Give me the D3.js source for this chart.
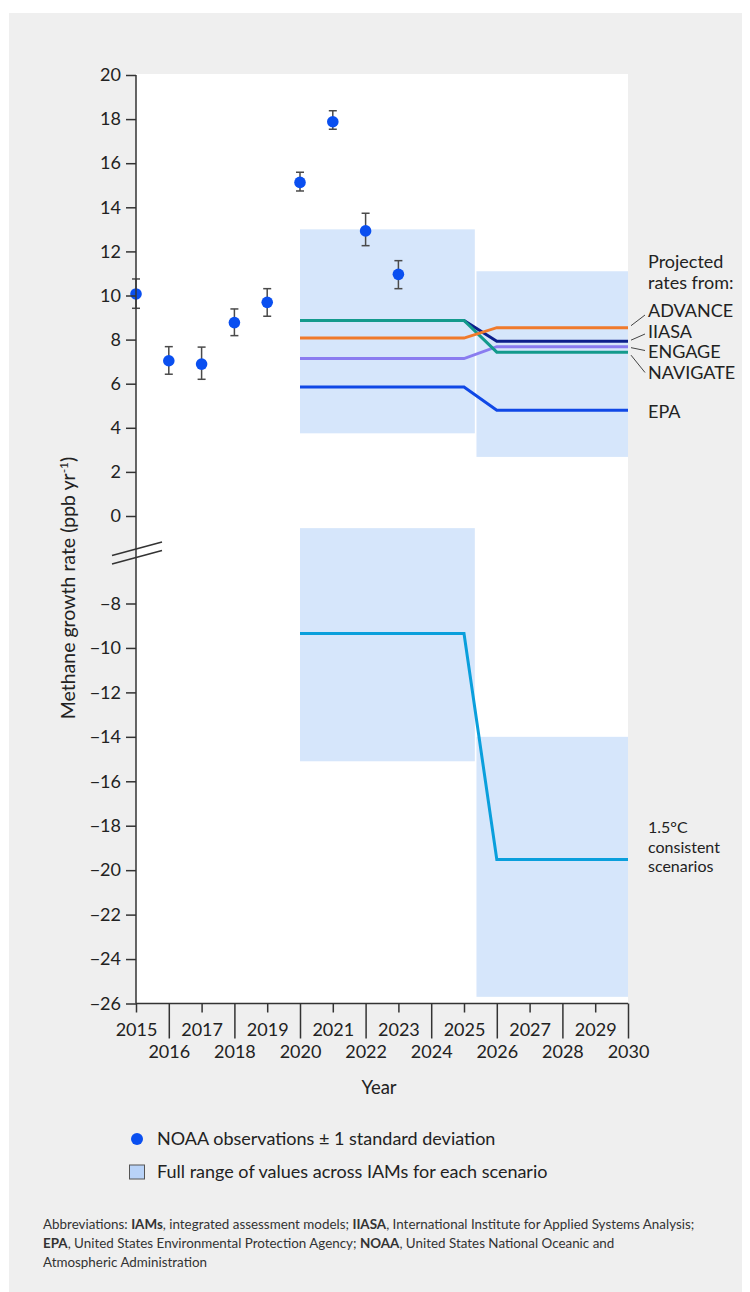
<!DOCTYPE html>
<html>
<head>
<meta charset="utf-8">
<script src="https://cdn.jsdelivr.net/npm/d3@7"></script>
<style>
  body { margin: 0; background: #fff; }
  text { font-family: Lato, "Open Sans", sans-serif; fill: #222; }
</style>
</head>
<body>
<div id="chart"></div>
<script>
// NOAA observations
const obsYears = [2015, 2016, 2017, 2018, 2019, 2020, 2021, 2022, 2023];
const obsValues = [10.07, 7.04, 6.89, 8.77, 9.69, 15.13, 17.88, 12.93, 10.96];
const obsLow = [9.42, 6.43, 6.2, 8.18, 9.06, 14.74, 17.54, 12.26, 10.31];
const obsHigh = [10.75, 7.68, 7.66, 9.39, 10.31, 15.59, 18.38, 13.73, 11.58];

// IAM ranges (boxes)
const boxStart = [2020, 2025.38, 2020, 2025.38];
const boxEnd = [2025.33, 2030, 2025.33, 2030];
const boxLow = [3.75, 2.68, -15.1, -25.7];
const boxHigh = [13.0, 11.1, -0.55, -14.0];

// projected rates
const scenarioYears = [2020, 2025, 2026, 2030];
const advance = [8.07, 8.07, 8.54, 8.54];
const iiasa = [8.87, 8.87, 7.93, 7.93];
const engage = [7.14, 7.14, 7.68, 7.68];
const navigate = [8.87, 8.87, 7.43, 7.43];
const epa = [5.85, 5.85, 4.8, 4.8];
const consistent15 = [-9.35, -9.35, -19.52, -19.52];

const upperTicks = [0, 2, 4, 6, 8, 10, 12, 14, 16, 18, 20];
const lowerTicks = [-8, -10, -12, -14, -16, -18, -20, -22, -24, -26];
const yearTicks = d3.range(2015, 2031);

const width = 750, height = 1292;
const svg = d3.select("#chart").append("svg")
  .attr("width", width)
  .attr("height", height);

// grey panel
svg.append("rect")
  .attr("x", 9).attr("y", 13)
  .attr("width", 733).attr("height", 1279)
  .attr("fill", "#efefef");

//scales
const x = d3.scaleLinear().domain([2015, 2030]).range([136, 628]);
const yTop = d3.scaleLinear().domain([0, 20]).range([516, 75]);
const yBot = d3.scaleLinear().domain([-26, -8]).range([1003.5, 603.5]);
const breakAt = -2;
const y = v => v > breakAt ? yTop(v) : yBot(v);

// plot area
svg.append("rect")
  .attr("x", x(2015)).attr("y", 74)
  .attr("width", x(2030) - x(2015)).attr("height", yBot(-26) - 74)
  .attr("fill", "#fff");

// boxes
svg.selectAll("rect.box")
  .data(boxLow.map((d, i) => i))
  .join("rect")
  .attr("class", "box")
  .attr("x", i => x(boxStart[i]))
  .attr("width", i => x(boxEnd[i]) - x(boxStart[i]))
  .attr("y", i => y(boxHigh[i]))
  .attr("height", i => y(boxLow[i]) - y(boxHigh[i]))
  .attr("fill", "#d6e6fb");

// lines
const line = d3.line()
  .x((d, i) => x(scenarioYears[i]))
  .y(d => y(d));

const series = [
  {values: epa, color: "#1048e6"},
  {values: engage, color: "#8a7cf0"},
  {values: iiasa, color: "#0c1f8c"},
  {values: navigate, color: "#139a8c"},
  {values: advance, color: "#f07a2c"},
  {values: consistent15, color: "#0a9fdc"}
];
series.forEach(s => {
  svg.append("path")
    .datum(s.values)
    .attr("d", line)
    .attr("fill", "none")
    .attr("stroke", s.color)
    .attr("stroke-width", 3);
});

// error bars + points
const obs = obsYears.map((yr, i) => ({yr, v: obsValues[i], lo: obsLow[i], hi: obsHigh[i]}));
const eb = svg.append("g").attr("stroke", "#4a4a4a").attr("stroke-width", 1.5);
obs.forEach(d => {
  eb.append("line").attr("x1", x(d.yr)).attr("x2", x(d.yr)).attr("y1", y(d.lo)).attr("y2", y(d.hi));
  eb.append("line").attr("x1", x(d.yr) - 4).attr("x2", x(d.yr) + 4).attr("y1", y(d.lo)).attr("y2", y(d.lo));
  eb.append("line").attr("x1", x(d.yr) - 4).attr("x2", x(d.yr) + 4).attr("y1", y(d.hi)).attr("y2", y(d.hi));
});
svg.selectAll("circle.obs")
  .data(obs)
  .join("circle")
  .attr("class", "obs")
  .attr("cx", d => x(d.yr))
  .attr("cy", d => y(d.v))
  .attr("r", 5.8)
  .attr("fill", "#0a4ff0");

// y axes
function styleAxis(g) {
  g.select(".domain").remove();
  g.selectAll(".tick line").attr("stroke", "#333").attr("stroke-width", 1.5);
  g.selectAll(".tick text").style("font-family", "Lato, sans-serif").style("font-size", "18px").attr("fill", "#222");
}
svg.append("g")
  .attr("transform", `translate(${x(2015)},0)`)
  .call(d3.axisLeft(yTop).tickValues(upperTicks).tickSize(10).tickPadding(5))
  .call(styleAxis);
svg.append("g")
  .attr("transform", `translate(${x(2015)},0)`)
  .call(d3.axisLeft(yBot).tickValues(lowerTicks).tickSize(10).tickPadding(5))
  .call(styleAxis);

// axis lines
svg.append("line")
  .attr("x1", x(2015)).attr("x2", x(2015))
  .attr("y1", yTop(20)).attr("y2", yBot(-26))
  .attr("stroke", "#333").attr("stroke-width", 1.5);
svg.append("line")
  .attr("x1", x(2015)).attr("x2", x(2030))
  .attr("y1", yBot(-26)).attr("y2", yBot(-26))
  .attr("stroke", "#333").attr("stroke-width", 1.5);

// break marks
[0, 8.5].forEach(off => {
  svg.append("line")
    .attr("x1", 112).attr("y1", 555.5 + off)
    .attr("x2", 162).attr("y2", 542 + off)
    .attr("stroke", "#333").attr("stroke-width", 1.5);
});

// x axis
const xa = svg.append("g")
  .attr("transform", `translate(0,${yBot(-26)})`)
  .call(d3.axisBottom(x).tickValues(yearTicks).tickFormat(d3.format("d")).tickSize(0));
xa.select(".domain").remove();
xa.selectAll(".tick line")
  .attr("stroke", "#333").attr("stroke-width", 1.5)
  .attr("y2", d => d % 2 === 1 ? 9 : 35);
xa.selectAll(".tick text")
  .style("font-family", "Lato, sans-serif").style("font-size", "18px").attr("fill", "#222")
  .attr("dy", null)
  .attr("y", d => d % 2 === 1 ? 32.5 : 54.5);

svg.append("text")
  .attr("x", 379).attr("y", 1093.5)
  .attr("text-anchor", "middle")
  .style("font-size", "18.5px")
  .text("Year");

// y label
const yl = svg.append("text")
  .attr("transform", "translate(75,588) rotate(-90)")
  .attr("text-anchor", "middle")
  .style("font-size", "19.5px")
  .text("Methane growth rate (ppb yr");
yl.append("tspan").attr("dy", -7).style("font-size", "12px").text("-1");
yl.append("tspan").attr("dy", 7).text(")");

// right labels
const lab = svg.append("g").style("font-size", "18px");
lab.append("text").attr("x", 648).attr("y", 268).text("Projected");
lab.append("text").attr("x", 648).attr("y", 288.5).text("rates from:");
const names = ["ADVANCE", "IIASA", "ENGAGE", "NAVIGATE"];
const nameY = [317, 337.5, 358, 378.5];
const lineEnds = [advance[3], iiasa[3], engage[3], navigate[3]];
const leadEnd = [315, 334, 350.5, 372.5];
names.forEach((n, i) => {
  lab.append("text").attr("x", 648).attr("y", nameY[i]).text(n);
  svg.append("line")
    .attr("x1", 631).attr("y1", y(lineEnds[i]) + [-2, -1, 1, 3][i])
    .attr("x2", 645).attr("y2", leadEnd[i])
    .attr("stroke", "#444").attr("stroke-width", 1);
});
lab.append("text").attr("x", 648).attr("y", 418).text("EPA");

// 1.5°C label
["1.5°C", "consistent", "scenarios"].forEach((s, i) => {
  svg.append("text")
    .attr("x", 648).attr("y", 833 + i * 19.6)
    .style("font-size", "16px")
    .text(s);
});

// legend
svg.append("circle").attr("cx", 137).attr("cy", 1139).attr("r", 6).attr("fill", "#0a4ff0");
svg.append("text").attr("x", 157).attr("y", 1145).style("font-size", "18px")
  .text("NOAA observations \u00b1 1 standard deviation");
svg.append("rect").attr("x", 129.5).attr("y", 1165).attr("width", 15).attr("height", 14)
  .attr("fill", "#b9d3f8").attr("stroke", "#555").attr("stroke-width", 1);
svg.append("text").attr("x", 157).attr("y", 1178).style("font-size", "18px")
  .text("Full range of values across IAMs for each scenario");

// footnote
const foot = [
  [["Abbreviations: ", 0], ["IAMs", 1], [", integrated assessment models; ", 0], ["IIASA", 1], [", International Institute for Applied Systems Analysis;", 0]],
  [["EPA", 1], [", United States Environmental Protection Agency; ", 0], ["NOAA", 1], [", United States National Oceanic and", 0]],
  [["Atmospheric Administration", 0]]
];
foot.forEach((parts, i) => {
  const t = svg.append("text")
    .attr("x", 43).attr("y", 1228.5 + i * 19)
    .style("font-size", "13.4px");
  parts.forEach(p => {
    t.append("tspan").style("font-weight", p[1] ? "bold" : "normal").style("fill", "#333").text(p[0]);
  });
});
</script>
</body>
</html>
